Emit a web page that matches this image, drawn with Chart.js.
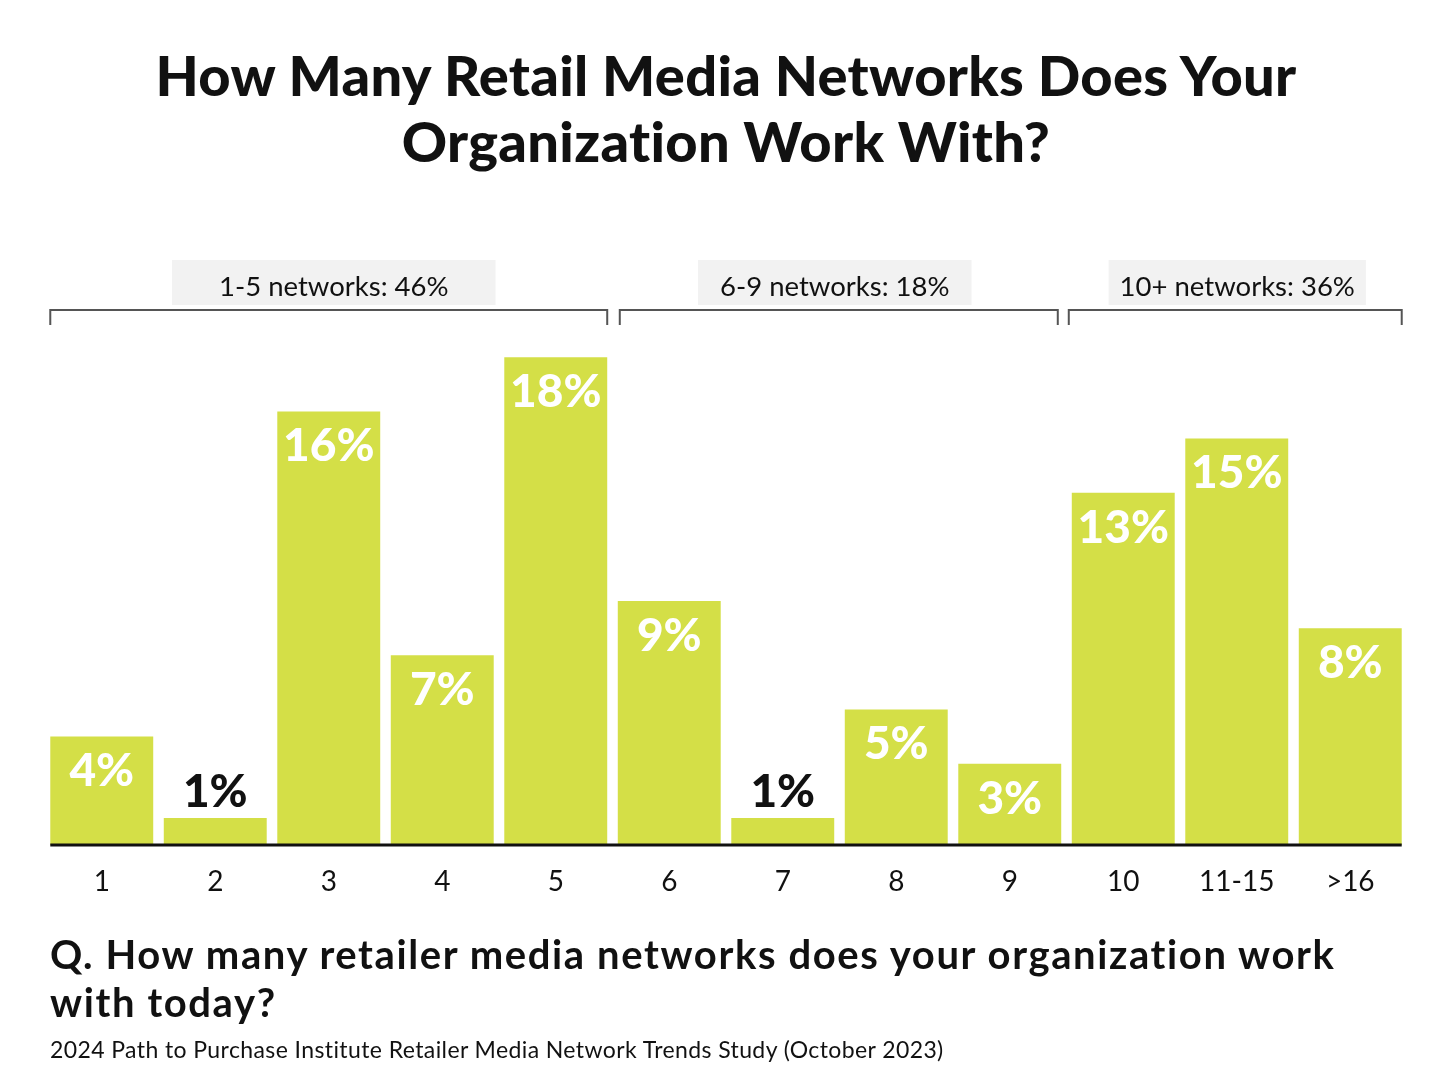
<!DOCTYPE html>
<html><head><meta charset="utf-8">
<script src="https://cdn.jsdelivr.net/npm/chart.js@4/dist/chart.umd.min.js"></script>
<style>
html,body{margin:0;padding:0;background:#fff;}
body{width:1440px;height:1086px;position:relative;overflow:hidden;font-family:Lato,sans-serif;color:#111;}
#wrap{position:absolute;left:0;top:0;width:1440px;height:1086px;}
#title{position:absolute;left:6px;top:42px;width:1440px;text-align:center;font-weight:900;font-size:56px;line-height:66px;letter-spacing:0.3px;}
#q{position:absolute;left:50px;top:930px;font-weight:700;font-size:40px;line-height:48px;width:1390px;letter-spacing:1.6px;white-space:nowrap;}
#src{position:absolute;left:50px;top:1036px;font-size:23px;line-height:26px;letter-spacing:0.4px;white-space:nowrap;}
</style></head>
<body>
<div id="wrap"><canvas id="c" width="1440" height="1086"></canvas></div>
<div id="title">How Many Retail Media Networks Does Your<br>Organization Work With?</div>
<div id="q">Q. How many retailer media networks does your organization work<br>with today?</div>
<div id="src">2024 Path to Purchase Institute Retailer Media Network Trends Study (October 2023)</div>
<script>
const categories = ['1','2','3','4','5','6','7','8','9','10','11-15','>16'];
const shares = [4,1,16,7,18,9,1,5,3,13,15,8];
const groupLabels = ['1-5 networks: 46%','6-9 networks: 18%','10+ networks: 36%'];
const groupFirst = [0,5,9];
const groupLast = [4,8,11];
const yMax = 20;

const BAR = '#d4df47';
// label box styling per group: horizontal padding and offset from bracket centre
const BOX_PAD = [47, 22, 11];
const BOX_SHIFT = [5, -4, 2];

const overlay = {
  id: 'overlay',
  afterDatasetsDraw(chart) {
    const ctx = chart.ctx;
    const meta = chart.getDatasetMeta(0);
    const bars = meta.data;
    const area = chart.chartArea;
    const yScale = chart.scales.y;
    const left = i => bars[i].x - bars[i].width / 2;
    const right = i => bars[i].x + bars[i].width / 2;
    ctx.save();
    // baseline
    ctx.strokeStyle = '#111';
    ctx.lineWidth = 3;
    ctx.beginPath();
    ctx.moveTo(left(0), area.bottom);
    ctx.lineTo(right(bars.length - 1), area.bottom);
    ctx.stroke();
    // value labels
    ctx.font = '900 46px Lato';
    ctx.textAlign = 'center';
    ctx.textBaseline = 'middle';
    bars.forEach((b, i) => {
      const h = area.bottom - b.y;
      const txt = shares[i] + '%';
      if (h < 60) {
        ctx.fillStyle = '#111';
        ctx.fillText(txt, b.x, b.y - 26);
      } else {
        ctx.fillStyle = '#fff';
        ctx.fillText(txt, b.x, b.y + 35);
      }
    });
    // brackets and group labels
    const by = yScale.getPixelForValue(yMax) + 7;
    groupLabels.forEach((lab, g) => {
      let x0 = left(groupFirst[g]);
      let x1 = right(groupLast[g]);
      if (g > 0) x0 = left(groupFirst[g]) + (g === 2 ? -3 : 2);
      if (g === 1) x1 = left(groupFirst[2]) - 14;
      ctx.strokeStyle = '#555';
      ctx.lineWidth = 2;
      ctx.beginPath();
      ctx.moveTo(x0, by + 15);
      ctx.lineTo(x0, by);
      ctx.lineTo(x1, by);
      ctx.lineTo(x1, by + 15);
      ctx.stroke();
      ctx.font = '400 27.5px Lato';
      const w = ctx.measureText(lab).width;
      const cx = (x0 + x1) / 2 + BOX_SHIFT[g];
      ctx.fillStyle = '#f2f2f2';
      ctx.fillRect(cx - w / 2 - BOX_PAD[g], by - 50, w + 2 * BOX_PAD[g], 45);
      ctx.fillStyle = '#111';
      ctx.textBaseline = 'middle';
      ctx.fillText(lab, cx, by - 23);
    });
    ctx.restore();
  }
};

new Chart(document.getElementById('c'), {
  type: 'bar',
  data: {
    labels: categories,
    datasets: [{ data: shares, backgroundColor: BAR, borderWidth: 0, categoryPercentage: 1, barPercentage: 0.907 }]
  },
  options: {
    responsive: false,
    animation: false,
    layout: { padding: { left: 45, right: 33, top: 303, bottom: 181 } },
    plugins: { legend: { display: false }, tooltip: { enabled: false } },
    scales: {
      x: {
        grid: { display: false, drawTicks: false },
        border: { display: false },
        ticks: { color: '#111', font: { family: 'Lato', size: 28 }, padding: 20 },
        afterFit: s => { s.height = 60; }
      },
      y: { display: false, min: 0, max: yMax }
    }
  },
  plugins: [overlay]
});
</script>
</body></html>
